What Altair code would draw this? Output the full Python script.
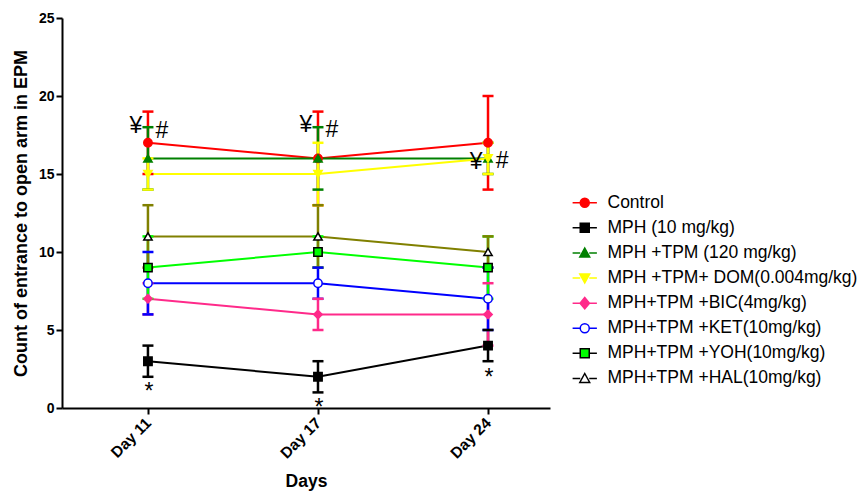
import altair as alt
import pandas as pd

days = ["Day 11", "Day 17", "Day 24"]
series = [
    "Control",
    "MPH (10 mg/kg)",
    "MPH +TPM (120 mg/kg)",
    "MPH +TPM+ DOM(0.004mg/kg)",
    "MPH+TPM +BIC(4mg/kg)",
    "MPH+TPM +KET(10mg/kg)",
    "MPH+TPM +YOH(10mg/kg)",
    "MPH+TPM +HAL(10mg/kg)",
]
line_colors = ["#FF0000", "#000000", "#008000", "#FFFF00", "#FF2A8A", "#0000FF", "#00FF00", "#808000"]
fill_colors = ["#FF0000", "#000000", "#008000", "#FFFF00", "#FF2A8A", "#FFFFFF", "#00FF00", "#FFFFFF"]
stroke_colors = ["#FF0000", "#000000", "#008000", "#FFFF00", "#FF2A8A", "#0000FF", "#000000", "#000000"]
shapes = ["circle", "square", "triangle-up", "triangle-down", "diamond", "circle", "square", "triangle-up"]

means = {
    "Control": [17, 16, 17],
    "MPH (10 mg/kg)": [3, 2, 4],
    "MPH +TPM (120 mg/kg)": [16, 16, 16],
    "MPH +TPM+ DOM(0.004mg/kg)": [15, 15, 16],
    "MPH+TPM +BIC(4mg/kg)": [7, 6, 6],
    "MPH+TPM +KET(10mg/kg)": [8, 8, 7],
    "MPH+TPM +YOH(10mg/kg)": [9, 10, 9],
    "MPH+TPM +HAL(10mg/kg)": [11, 11, 10],
}
errors = {
    "Control": [2, 3, 3],
    "MPH (10 mg/kg)": [1, 1, 1],
    "MPH +TPM (120 mg/kg)": [2, 2, 1],
    "MPH +TPM+ DOM(0.004mg/kg)": [1, 2, 1],
    "MPH+TPM +BIC(4mg/kg)": [1, 1, 2],
    "MPH+TPM +KET(10mg/kg)": [2, 1, 2],
    "MPH+TPM +YOH(10mg/kg)": [2, 1, 2],
    "MPH+TPM +HAL(10mg/kg)": [2, 2, 1],
}

yen_days = ["Day 11", "Day 17", "Day 24"]
yen_y = [18.05, 18.15, 15.75]
hash_y = [17.75, 17.85, 15.85]
star_days = ["Day 11", "Day 17", "Day 24"]
star_y = [1.35, 0.3, 2.25]

rows = []
for i, s in enumerate(series):
    for j, d in enumerate(days):
        m = means[s][j]
        e = errors[s][j]
        rows.append({
            "series": s, "order": i, "day": d, "mean": m, "lo": m - e, "hi": m + e,
        })
df = pd.DataFrame(rows)

ann_yen = pd.DataFrame({"day": yen_days, "y": yen_y, "t": ["¥"] * 3})
ann_hash = pd.DataFrame({"day": yen_days, "y": hash_y, "t": ["#"] * 3})
ann_star = pd.DataFrame({"day": star_days, "y": star_y, "t": ["*"] * 3})

FONT = "Liberation Sans"

x_enc = alt.X(
    "day:O",
    scale=alt.Scale(type="point", domain=days, padding=0.435, align=0.581),
    axis=alt.Axis(
        title="Days", labelAngle=-45, labelAlign="right", labelBaseline="middle",
        labelFontWeight="bold", labelFontSize=15.5, labelFont=FONT, labelColor="black",
        titleFont=FONT, titleFontSize=17.5, titleFontWeight="bold", titleColor="black",
        domainColor="black", domainWidth=2, tickColor="black", tickWidth=2, tickSize=6,
        labelPadding=6, titlePadding=11,
    ),
)
y_scale = alt.Scale(domain=[0, 25], nice=False, zero=True)
y_axis = alt.Axis(
    title="Count of entrance to open arm in EPM", values=[0, 5, 10, 15, 20, 25],
    labelFontWeight="bold", labelFontSize=14, labelFont=FONT, labelColor="black",
    titleFont=FONT, titleFontSize=18, titleFontWeight="bold", titleColor="black",
    domainColor="black", domainWidth=2, tickColor="black", tickWidth=2, tickSize=6,
    labelPadding=2, titlePadding=8, grid=False,
)

color = alt.Color("series:N", scale=alt.Scale(domain=series, range=line_colors), legend=None)

base = alt.Chart(df)

lines = base.mark_line(strokeWidth=2).encode(
    x=x_enc, y=alt.Y("mean:Q", scale=y_scale, axis=y_axis), color=color, detail="series:N",
)
rules = base.mark_rule(strokeWidth=2.5).encode(
    x="day:O", y="lo:Q", y2="hi:Q", color=color,
)
ticks_lo = base.mark_tick(size=11, thickness=2.5, opacity=1).encode(x="day:O", y="lo:Q", color=color)
ticks_hi = base.mark_tick(size=11, thickness=2.5, opacity=1).encode(x="day:O", y="hi:Q", color=color)

points = base.mark_point(filled=True, size=70, opacity=1, strokeWidth=1.5).encode(
    x="day:O", y="mean:Q",
    shape=alt.Shape("series:N", scale=alt.Scale(domain=series, range=shapes), legend=None),
    fill=alt.Fill("series:N", scale=alt.Scale(domain=series, range=fill_colors), legend=None),
    stroke=alt.Stroke("series:N", scale=alt.Scale(domain=series, range=stroke_colors), legend=None),
)

# legend symbol paths: marker plus line segments on each side
seg = "M-2.7,0H-1M1,0H2.7"
paths = {
    "circle": "M1,0A1,1 0 1,1 -1,0A1,1 0 1,1 1,0Z",
    "square": "M-1,-1H1V1H-1Z",
    "triangle-up": "M0,-1.1L1.1,0.9H-1.1Z",
    "triangle-down": "M0,1.1L1.1,-0.9H-1.1Z",
    "diamond": "M0,-1.25L1.05,0L0,1.25L-1.05,0Z",
}
legend_paths = [paths[sh] + seg for sh in shapes]

def make_legend():
    return alt.Legend(
        title=None, orient="none", legendX=514, legendY=176,
        labelFont=FONT, labelFontSize=17.5, labelColor="black", labelOffset=14,
        labelLimit=400, symbolSize=81, symbolStrokeWidth=1.5, rowPadding=6.1,
        symbolOpacity=1,
    )

# a layer that draws nothing; it only carries the legend (domain is explicit)
legend_layer = base.transform_filter("datum.order < 0").mark_point(
    filled=True, size=81, opacity=1, strokeWidth=1.5
).encode(
    x="day:O", y="mean:Q",
    shape=alt.Shape("series:N", scale=alt.Scale(domain=series, range=legend_paths), legend=make_legend()),
    fill=alt.Fill("series:N", scale=alt.Scale(domain=series, range=fill_colors), legend=make_legend()),
    stroke=alt.Stroke("series:N", scale=alt.Scale(domain=series, range=stroke_colors), legend=make_legend()),
)

txt_style = dict(font=FONT, fontSize=23, color="black", baseline="middle", align="center")
yen = alt.Chart(ann_yen).mark_text(dx=-12, **txt_style).encode(x="day:O", y="y:Q", text="t:N")
hsh = alt.Chart(ann_hash).mark_text(dx=14, **txt_style).encode(x="day:O", y="y:Q", text="t:N")
star = alt.Chart(ann_star).mark_text(dx=1, dy=5, **txt_style).encode(x="day:O", y="y:Q", text="t:N")

chart = alt.layer(lines, rules, ticks_lo, ticks_hi, points, legend_layer, yen, hsh, star).resolve_scale(
    shape="independent", fill="independent", stroke="independent"
).properties(
    width=488, height=390, background="white",
    autosize=alt.AutoSizeParams(type="none"),
    padding={"left": 62, "top": 18, "right": 316, "bottom": 84},
).configure_view(strokeWidth=0)

chart.save("out.html", embed_options={"renderer": "svg", "actions": False})
